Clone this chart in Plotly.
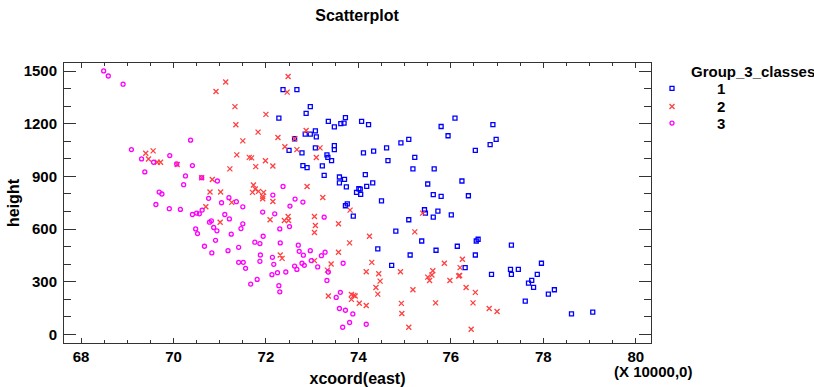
import plotly.graph_objects as go

# ---------------- data ----------------
g1_x = [72.37, 72.67, 72.96, 72.87, 72.28, 73.35, 73.48, 73.62, 73.69, 73.72, 74.07, 74.22,
        73.07, 72.85, 72.96, 73.09, 72.62, 73.48, 73.48, 73.07, 72.50, 72.78, 73.32, 73.34,
        73.42, 72.80, 72.89, 73.22, 73.26, 73.59, 73.70, 73.59, 73.74, 74.15, 74.31, 74.18,
        74.01, 74.04, 73.96, 74.05, 74.11, 74.33, 74.61, 74.64, 74.92, 75.09, 75.22, 75.18,
        75.64, 75.50, 75.79, 75.94, 75.62, 75.79,
        74.50, 73.72, 73.76, 73.89, 75.43, 75.45, 75.72, 75.62, 75.09, 74.81, 75.37, 75.68,
        75.12, 74.42, 74.72, 76.01,
        76.09, 76.91, 76.98, 76.85, 76.53, 76.24, 76.38,
        76.14, 76.55, 76.59, 77.31, 76.53, 76.31, 76.88, 77.29, 77.46, 77.31, 77.96, 77.87,
        77.75, 77.68, 77.79, 78.24, 78.11, 77.61, 78.61, 79.07]
g1_y = [1395, 1395, 1298, 1260, 1233, 1214, 1183, 1201, 1204, 1235, 1214, 1195,
        1160, 1141, 1141, 1126, 1115, 1076, 1053, 1063, 1049, 1034, 1023, 1009,
        990, 962, 950, 960, 906, 897, 883, 863, 840, 910, 863, 843,
        830, 828, 809, 798, 1034, 1044, 1063, 990, 1092, 1111, 1009, 943,
        943, 857, 1185, 1132, 796, 786,
        761, 733, 744, 674, 710, 691, 702, 668, 653, 588, 532, 479,
        452, 487, 393, 681,
        1233, 1195, 1111, 1082, 1049, 874, 790,
        502, 532, 542, 508, 452, 380, 342, 370, 370, 342, 405, 342,
        307, 292, 267, 254, 229, 189, 116, 126]

g2_x = [71.13, 70.92, 71.33, 71.35, 71.83, 71.50, 69.40, 69.56, 69.46, 70.08, 71.37, 71.64,
        71.69, 71.22, 71.78, 70.61, 70.84, 71.73, 71.77, 71.84, 71.71, 70.79, 71.02, 69.65,
        69.72,
        71.26, 70.70, 71.01,
        72.48, 72.46, 72.00, 72.26, 72.87, 72.41, 72.67, 73.17, 73.09, 72.62, 71.99, 72.15,
        72.89, 73.23, 71.95,
        71.93, 71.93, 72.15,
        72.09, 72.40, 72.48, 72.49, 73.05, 73.07, 73.05, 73.57, 73.82, 74.24, 73.81, 73.57,
        72.31, 72.35, 73.05, 73.41, 73.33, 74.29, 74.17, 74.44, 74.47, 74.38, 74.42, 74.91,
        75.22, 75.39, 75.18, 75.86, 75.61, 75.59, 75.50, 75.54, 75.98, 75.67, 74.93, 74.94,
        75.09, 73.35, 73.85, 73.90, 73.93, 73.85, 74.02, 74.17,
        76.25, 76.20, 76.17, 76.19, 76.33, 76.53, 76.48, 76.83, 77.00, 76.44]
g2_y = [1439, 1384, 1298, 1195, 1153, 1103, 1032, 1046, 1000, 968, 1023, 1009,
        1006, 943, 956, 893, 883, 851, 828, 815, 809, 811, 811, 981,
        981,
        752, 727, 639,
        1470, 1381, 1254, 1122, 1162, 1069, 1053, 1063, 1008, 1115, 990, 960,
        843, 780, 809,
        786, 773, 757,
        653, 649, 672, 649, 672, 620, 580, 630, 708, 559, 521, 468,
        452, 433, 420, 401, 366, 410, 357, 345, 303, 267, 229, 357,
        584, 691, 254, 405, 362, 338, 326, 307, 307, 179, 176, 118,
        40, 218, 227, 222, 218, 199, 177, 164,
        428, 380, 332, 335, 267, 239, 179, 147, 130, 29]

g3_x = [68.49, 68.59, 68.91, 69.09, 69.31, 69.38, 69.57, 69.92, 70.07, 70.37, 70.41, 70.26,
        70.22, 70.61, 70.95, 69.69, 69.75, 70.76, 71.20,
        69.62, 69.91, 70.15, 71.04, 71.36, 71.50, 70.41, 70.50, 70.56, 70.62, 70.78, 70.82,
        71.11, 71.21, 70.48, 70.52, 70.87, 70.94, 71.50, 71.46, 71.25, 70.91, 70.67, 70.83,
        71.18, 71.41, 71.76, 71.87, 71.41, 71.51, 71.56, 71.87, 71.88, 71.81, 71.67,
        72.37,
        72.15, 72.63, 72.80, 72.52, 71.93, 72.19, 73.26, 72.30, 72.51, 71.94, 72.31, 72.70,
        72.72, 72.81, 72.96, 73.28, 73.20, 72.14, 72.17, 72.62, 72.67, 72.78, 72.83, 72.98,
        73.12, 73.35, 73.67, 72.43, 72.25, 72.13, 73.32, 72.28, 72.30, 73.61, 73.52, 73.59,
        73.72, 73.88, 73.81, 73.66, 74.17]
g3_y = [1502, 1473, 1426, 1053, 1000, 926, 981, 1019, 971, 1107, 962, 903,
        853, 893, 874, 811, 800, 775, 779,
        740, 716, 712, 750, 756, 727, 683, 691, 687, 708, 639, 647,
        683, 658, 601, 574, 609, 590, 630, 603, 571, 536, 502, 464,
        477, 496, 525, 517, 410, 410, 376, 416, 452, 313, 286,
        843,
        794, 771, 754, 731, 697, 687, 668, 601, 614, 559, 521, 508,
        473, 451, 477, 468, 448, 439, 399, 389, 370, 405, 393, 420,
        384, 355, 405, 355, 351, 340, 307, 277, 242, 239, 210, 147,
        137, 116, 67, 40, 57]

group_names = ["1", "2", "3"]
x_ticks = [68, 70, 72, 74, 76, 78, 80]
y_ticks = [0, 300, 600, 900, 1200, 1500]

# ---------------- figure ----------------
FONT = "Liberation Sans, Arial, sans-serif"
W, H = 814, 387
L, R, T, B = 64, 163, 63, 44
PW, PH = W - L - R, H - T - B


def px_x(p):
    return (p - L) / PW


def px_y(p):
    return (H - B - p) / PH


fig = go.Figure()
fig.add_trace(go.Scatter(
    x=g1_x, y=g1_y, mode="markers", name=group_names[0], legend="legend",
    marker=dict(symbol="square-open", size=4, color="#0000FF",
                line=dict(width=1.3, color="#0000FF"))))
fig.add_trace(go.Scatter(
    x=g2_x, y=g2_y, mode="markers", name=group_names[1], legend="legend2",
    marker=dict(symbol="x-thin-open", size=5, color="#FF4040",
                line=dict(width=1.3, color="#FF4040"))))
fig.add_trace(go.Scatter(
    x=g3_x, y=g3_y, mode="markers", name=group_names[2], legend="legend3",
    marker=dict(symbol="circle-open", size=4, color="#FF00FF",
                line=dict(width=1.3, color="#FF00FF"))))

bold = dict(family=FONT, color="black", weight="bold")

axis_common = dict(
    showline=True, linecolor="#333333", linewidth=1, mirror="allticks",
    ticks="inside", tickcolor="#333333", showgrid=False, zeroline=False,
    tickfont=dict(size=15, **bold), automargin=False,
)

legend_common = dict(xanchor="left", yanchor="middle", itemwidth=80,
                     font=dict(size=15, **bold), bgcolor="rgba(0,0,0,0)",
                     borderwidth=0)

fig.update_layout(
    width=W, height=H,
    margin=dict(l=L, r=R, t=T, b=B, autoexpand=False),
    paper_bgcolor="white", plot_bgcolor="white",
    showlegend=True,
    title=dict(text="Scatterplot", x=357 / W, xanchor="center",
               y=1 - 15 / H, yanchor="middle", font=dict(size=16, **bold)),
    xaxis=dict(range=[67.632, 80.33], tickmode="array", tickvals=x_ticks,
               ticklen=5, ticklabelstandoff=0,
               minor=dict(dtick=0.5, tick0=68, ticklen=3, ticks="inside",
                          tickcolor="#333333"),
               title=dict(text="xcoord(east)", font=dict(size=16, **bold), standoff=13),
               **axis_common),
    yaxis=dict(range=[-49.8, 1547], tickmode="array", tickvals=y_ticks,
               ticklen=12, ticklabelstandoff=3,
               minor=dict(dtick=100, tick0=0, ticklen=7, ticks="inside",
                          tickcolor="#333333"),
               title=dict(text="height", font=dict(size=16, **bold), standoff=0),
               **axis_common),
    legend=dict(x=px_x(627), y=px_y(88.7), **legend_common),
    legend2=dict(x=px_x(627), y=px_y(106.7), **legend_common),
    legend3=dict(x=px_x(627), y=px_y(123.3), **legend_common),
    annotations=[
        dict(text="Group_3_classes", xref="paper", yref="paper",
             x=px_x(689), y=px_y(71.5), xanchor="left", yanchor="middle",
             showarrow=False, font=dict(size=15, **bold)),
        dict(text="(X 10000,0)", xref="paper", yref="paper",
             x=px_x(653), y=px_y(371), xanchor="center", yanchor="middle",
             showarrow=False, font=dict(size=15, **bold)),
    ],
)

fig.write_html("out.html", config={"displayModeBar": False})

# remove the default page margin so the figure sits at the window's top-left corner
with open("out.html", "r", encoding="utf-8") as f:
    html = f.read()
html = html.replace("<head>", "<head><style>html,body{margin:0;padding:0;}</style>", 1)
with open("out.html", "w", encoding="utf-8") as f:
    f.write(html)
